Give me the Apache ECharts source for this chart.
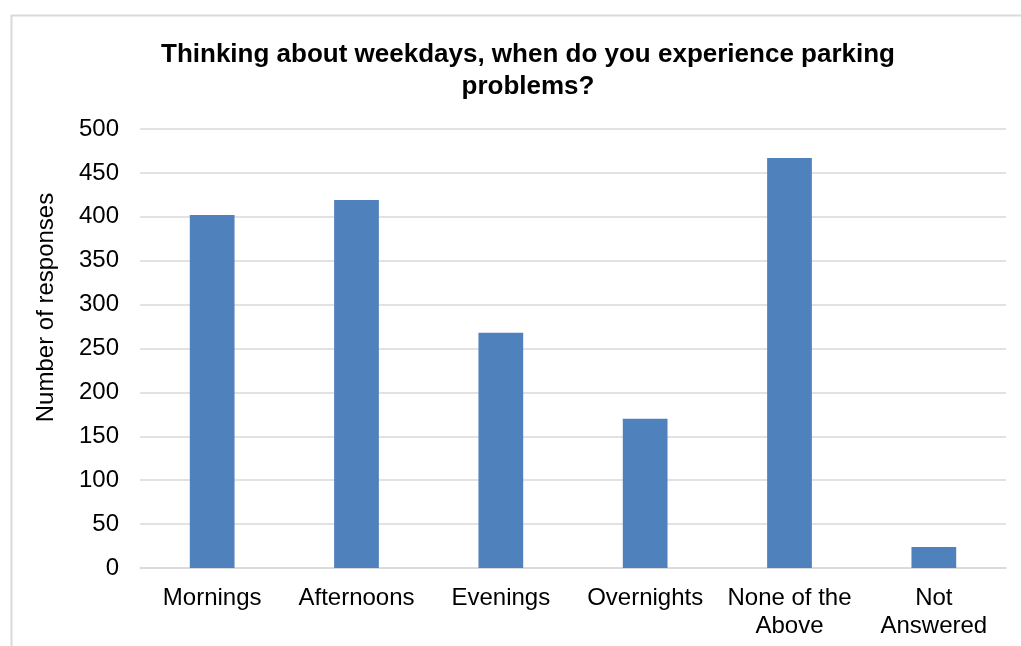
<!DOCTYPE html>
<html>
<head>
<meta charset="utf-8">
<script src="https://cdn.jsdelivr.net/npm/echarts@6/dist/echarts.min.js"></script>
<style>
  html, body { margin: 0; padding: 0; background: #ffffff; }
  #chart { width: 1021px; height: 646px; }
</style>
</head>
<body>
<div id="chart"></div>
<script>
// Weekday parking problem survey responses
const categories = ['Mornings', 'Afternoons', 'Evenings', 'Overnights', 'None of the\nAbove', 'Not\nAnswered'];
const responses = [402, 419, 268, 170, 467, 24];
const yTicks = [0, 50, 100, 150, 200, 250, 300, 350, 400, 450, 500];

const chart = echarts.init(document.getElementById('chart'));
const font = '"Liberation Sans", Arial, sans-serif';

chart.setOption({
  backgroundColor: '#ffffff',
  animation: false,
  graphic: [{
    type: 'rect',
    left: 9, top: 13,
    shape: { width: 1100, height: 700 },
    style: { fill: 'none', stroke: '#d9d9d9', lineWidth: 2 },
    silent: true
  }],
  title: {
    text: 'Thinking about weekdays, when do you experience parking\nproblems?',
    left: 523,
    textAlign: 'center',
    top: 34,
    textStyle: {
      fontFamily: font,
      fontWeight: 'bold',
      fontSize: 26,
      lineHeight: 32,
      color: '#000000'
    }
  },
  grid: { left: 140, right: 15, top: 129, bottom: 78, containLabel: false },
  xAxis: {
    type: 'category',
    data: categories,
    axisLine: { show: true, lineStyle: { color: '#d9d9d9', width: 1.5 } },
    axisTick: { show: false },
    axisLabel: {
      fontFamily: font,
      fontSize: 24,
      color: '#000000',
      lineHeight: 28,
      margin: 16,
      interval: 0
    }
  },
  yAxis: {
    type: 'value',
    min: yTicks[0],
    max: yTicks[yTicks.length - 1],
    interval: 50,
    name: 'Number of responses',
    nameLocation: 'middle',
    nameGap: 82,
    nameRotate: 90,
    nameTextStyle: { fontFamily: font, fontSize: 24, color: '#000000', padding: [0, 0, 0, 82] },
    axisLine: { show: false },
    axisTick: { show: false },
    axisLabel: { fontFamily: font, fontSize: 24, color: '#000000', margin: 21 },
    splitLine: { show: true, lineStyle: { color: '#d9d9d9', width: 1.5 } }
  },
  series: [{
    type: 'bar',
    data: responses,
    barWidth: '31%',
    itemStyle: { color: '#4f81bd' }
  }]
});
</script>
</body>
</html>
